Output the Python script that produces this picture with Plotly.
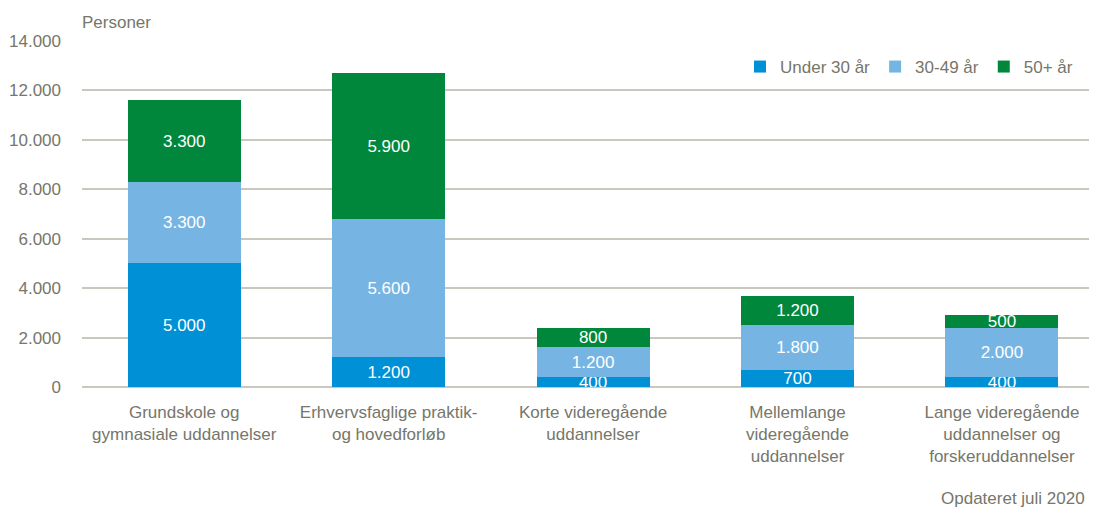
import plotly.graph_objects as go

categories = [
    "Grundskole og<br>gymnasiale uddannelser",
    "Erhvervsfaglige praktik-<br>og hovedforløb",
    "Korte videregående<br>uddannelser",
    "Mellemlange<br>videregående<br>uddannelser",
    "Lange videregående<br>uddannelser og<br>forskeruddannelser",
]
under30 = [5000, 1200, 400, 700, 400]
age30_49 = [3300, 5600, 1200, 1800, 2000]
age50plus = [3300, 5900, 800, 1200, 500]
series_names = ["Under 30 år", "30-49 år", "50+ år"]
colors = ["#0090d6", "#76b5e3", "#00873c"]
y_ticks = [0, 2000, 4000, 6000, 8000, 10000, 12000, 14000]

FONT = "Liberation Sans, Arial, sans-serif"
GREY = "#76766a"
FS = 17

def fmt(v):
    return f"{v:,}".replace(",", ".")

fig = go.Figure()
for name, vals, col in zip(series_names, [under30, age30_49, age50plus], colors):
    fig.add_trace(go.Bar(
        x=categories, y=vals, name=name, marker_color=col, marker_line_width=0,
        text=[fmt(v) for v in vals], textposition="inside", insidetextanchor="middle",
        textfont=dict(color="white", size=FS, family=FONT), constraintext="none",
        hoverinfo="skip",
    ))

# page body has an 8px margin; figure sized to fill the rest of the window
OFF = 8
W, H = 1097 - OFF, 511 - OFF
L, R, T, B = 74, 0, 33, 124
pw = W - L - R
ph = H - T - B

def px(xs):
    return (xs - OFF - L) / pw

def py(ys):
    return (H - B - (ys - OFF)) / ph

fig.update_layout(
    barmode="stack", bargap=0.447,
    width=W, height=H,
    margin=dict(l=L, r=R, t=T, b=B, autoexpand=False),
    plot_bgcolor="white", paper_bgcolor="white",
    font=dict(family=FONT, color=GREY, size=FS),
    uniformtext=dict(minsize=FS, mode="show"),
    showlegend=True,
    legend=dict(orientation="h", x=px(740), xanchor="left", y=py(67), yanchor="middle",
                font=dict(size=FS, color=GREY, family=FONT), traceorder="normal",
                bgcolor="rgba(0,0,0,0)", itemwidth=30),
    xaxis=dict(range=[-0.5, 4.465], showgrid=False, showline=False, ticks="",
               tickangle=0, automargin=False,
               tickfont=dict(size=FS, color=GREY), ticklabelstandoff=13),
    yaxis=dict(range=[0, 14000], tickvals=y_ticks, ticktext=[fmt(v) for v in y_ticks],
               showgrid=True, gridcolor="#c8c8c0", gridwidth=1.5, zeroline=True,
               zerolinecolor="#c8c8c0", zerolinewidth=1.5, showline=False, automargin=False,
               tickfont=dict(size=FS, color=GREY), ticklabelstandoff=20),
    annotations=[
        dict(text="Personer", x=px(80), y=py(22), xref="paper", yref="paper",
             xanchor="left", yanchor="middle", showarrow=False,
             font=dict(size=FS, color=GREY, family=FONT)),
        dict(text="Opdateret juli 2020", x=px(1087), y=py(498), xref="paper", yref="paper",
             xanchor="right", yanchor="middle", showarrow=False,
             font=dict(size=FS, color=GREY, family=FONT)),
    ],
)

fig.write_html("out.html")
